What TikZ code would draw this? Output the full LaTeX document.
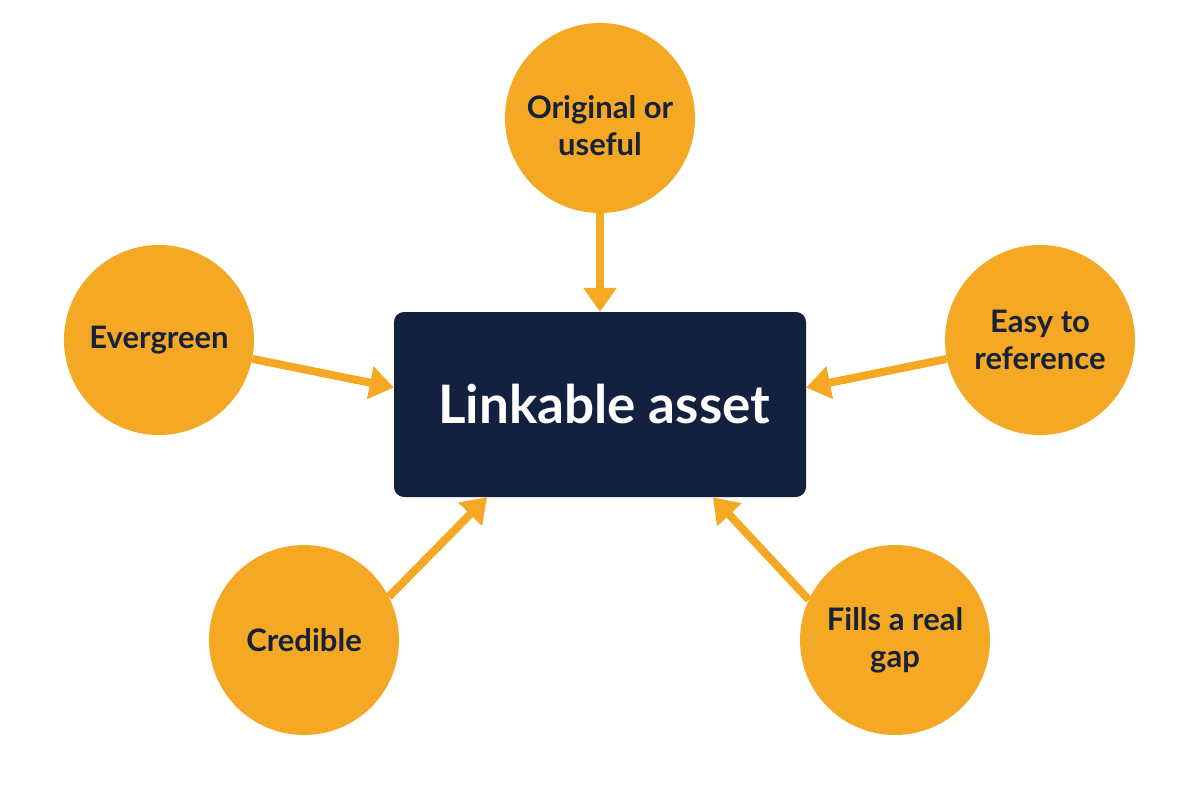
\documentclass[tikz,border=0pt]{standalone}
\usepackage{fontspec}
\setmainfont{Lato}
\usetikzlibrary{arrows.meta}
\definecolor{orangeA}{HTML}{F5A823}
\definecolor{navyA}{HTML}{13213F}
\definecolor{inkA}{HTML}{17213A}
\tikzset{
  bubble/.style={circle, fill=orangeA, minimum size=190pt, inner sep=0pt,
    text=inkA, align=center, font=\fontsize{31}{37}\selectfont\bfseries},
  bubbletext/.style={text=inkA, align=center, font=\fontsize{31}{37}\selectfont\bfseries},
  assetbox/.style={rectangle, rounded corners=10pt, fill=navyA, minimum width=412pt,
    minimum height=185pt, inner sep=0pt, text=white, font=\fontsize{53}{60}\selectfont\bfseries},
  arr/.style={draw=orangeA, line width=8pt, -{Triangle[width=32pt,length=24pt]}, shorten >=0pt}
}
\begin{document}
\begin{tikzpicture}[x=1pt,y=-1pt]
\useasboundingbox[fill=white] (0,0) rectangle (1200,800);
\node[assetbox] (asset) at (600,404.5) {\hspace*{8pt}Linkable asset};
\node[bubble, label={[bubbletext, yshift=-8pt]center:Original or\\useful}] (orig) at (600,118) {};
\node[bubble] (ever) at (159,340) {Evergreen};
\node[bubble] (easy) at (1040,340) {Easy to\\reference};
\node[bubble] (cred) at (304,640) {Credible};
\node[bubble] (fill) at (895,640) {Fills a real\\gap};
\coordinate (tl) at ([yshift=17pt]asset.west);
\coordinate (tr) at ([yshift=17pt]asset.east);
\coordinate (bl) at ([xshift=-113pt]asset.south);
\coordinate (br) at ([xshift=113pt]asset.south);
\draw[arr] (orig) -- (asset.north);
\draw[arr] (ever) -- (tl);
\draw[arr] (easy) -- (tr);
\draw[arr] (cred.27) -- (bl);
\draw[arr] (fill.155) -- (br);
\end{tikzpicture}
\end{document}
